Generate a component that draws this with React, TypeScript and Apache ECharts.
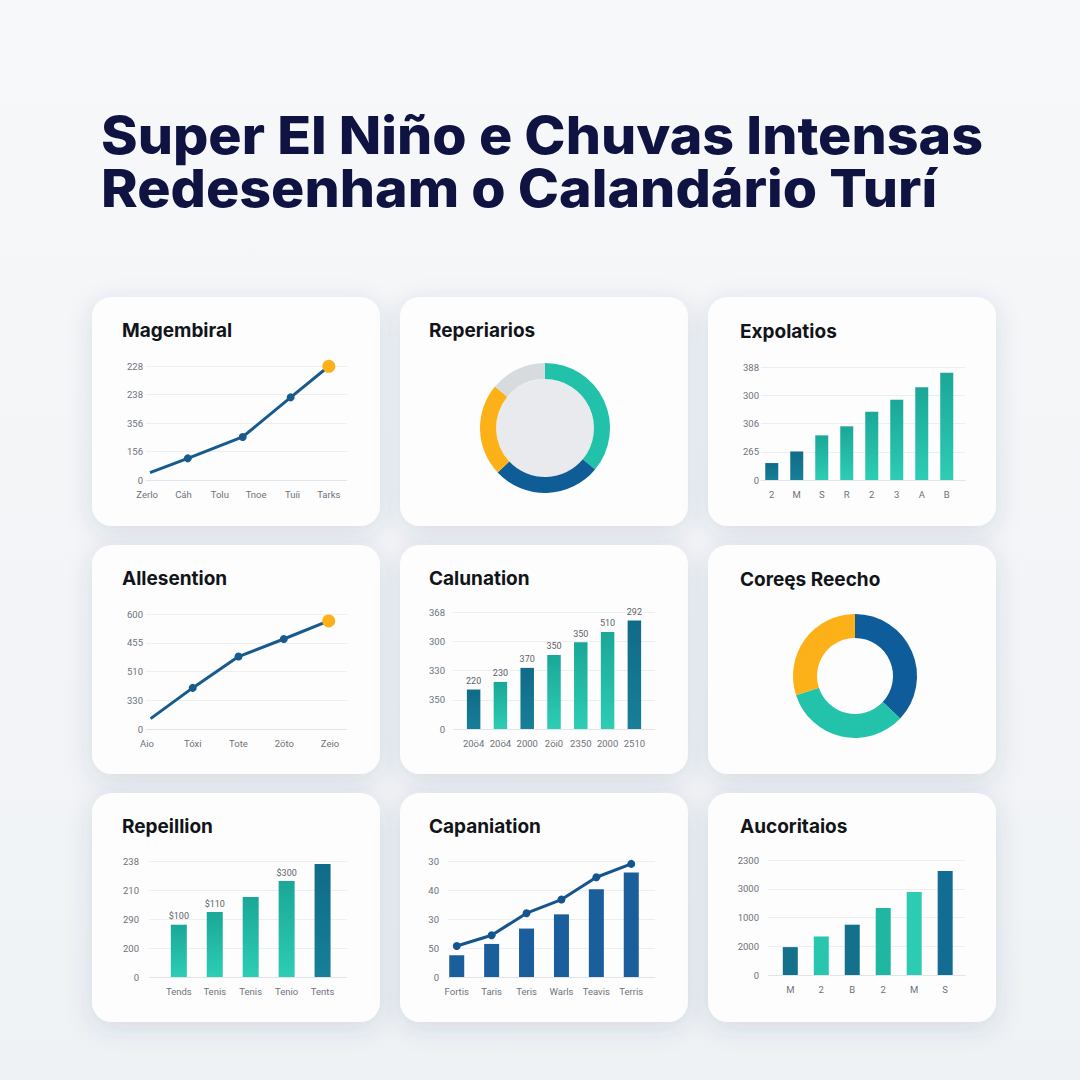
import React, { useEffect, useRef } from 'react';
import * as echarts from 'echarts';

// ---------- Text ----------
const TITLE_LINE1 = 'Super El Niño e Chuvas Intensas';
const TITLE_LINE2 = 'Redesenham o Calandário Turí';

const panelTitles = [
  'Magembiral', 'Reperiarios', 'Expolatios',
  'Allesention', 'Calunation', 'Coreęs Reecho',
  'Repeillion', 'Capaniation', 'Aucoritaios',
];

// ---------- Data ----------
// Panel 1 – line
const p1XLabels = ['Zerlo', 'Cáh', 'Tolu', 'Tnoe', 'Tuíi', 'Tarks'];
const p1YLabels = ['0', '156', '356', '238', '228'];
const p1X = [0.08, 1.12, 2.63, 3.95, 5.0];
const p1Y = [26, 76, 151, 290, 399];

// Panel 2 – donut
const p2Names = ['A', 'B', 'C', 'D'];
const p2Values = [36, 27, 23, 14];

// Panel 3 – bars
const p3XLabels = ['2', 'M', 'S', 'R', '2', '3', 'A', 'B'];
const p3YLabels = ['0', '265', '306', '300', '388'];
const p3Values = [60, 101, 158, 190, 242, 284, 328, 380];

// Panel 4 – line
const p4XLabels = ['Aio', 'Tóxi', 'Tote', '2öto', 'Zeio'];
const p4YLabels = ['0', '330', '510', '455', '600'];
const p4X = [0.08, 1.0, 2.0, 2.99, 3.97];
const p4Y = [36, 143, 252, 313, 376];

// Panel 5 – bars with labels
const p5XLabels = ['20ö4', '20ö4', '2000', '2öi0', '2350', '2000', '2510'];
const p5YLabels = ['0', '350', '330', '300', '368'];
const p5Values = [135, 161, 209, 253, 297, 332, 371];
const p5BarLabels = ['220', '230', '370', '350', '350', '510', '292'];

// Panel 6 – donut
const p6Names = ['A', 'B', 'C'];
const p6Values = [37, 33, 30];

// Panel 7 – bars with labels
const p7XLabels = ['Tends', 'Tenis', 'Tenis', 'Tenio', 'Tents'];
const p7YLabels = ['0', '200', '290', '210', '238'];
const p7Values = [180, 224, 276, 331, 390];
const p7BarLabels = ['$100', '$110', '', '$300', ''];

// Panel 8 – bars + line
const p8XLabels = ['Fortis', 'Taris', 'Teris', 'Warls', 'Teavis', 'Terris'];
const p8YLabels = ['0', '50', '30', '40', '30'];
const p8Bars = [75, 114, 167, 216, 303, 360];
const p8Line = [107, 144, 220, 267, 344, 390];

// Panel 9 – bars
const p9XLabels = ['M', '2', 'B', '2', 'M', 'S'];
const p9YLabels = ['0', '2000', '1000', '3000', '2300'];
const p9Values = [97, 134, 175, 233, 289, 362];

// ---------- Styles ----------
const NAVY = '#0e1342';
const LINE_BLUE = '#175a8d';
const YELLOW = '#fbb117';
const TEAL = '#22c1aa';
const DARK_TEAL = '#13718c';
const BLUE = '#0f5d96';
const GRAY_SEG = '#d8dbde';
const AXIS_TXT = '#6e7277';
const GRID_LINE = '#eceef0';
const TICK_FONT = 'Roboto, "Noto Sans", sans-serif';
const TITLE_FONT = 'Inter, "Noto Sans", sans-serif';

const grad = (top: string, bottom: string) =>
  new echarts.graphic.LinearGradient(0, 0, 0, 1, [
    { offset: 0, color: top },
    { offset: 1, color: bottom },
  ]);
const tealGrad = () => grad('#1aa797', '#2dcdb4');
const darkGrad = () => grad('#106b88', '#177f97');

const p3Colors = [darkGrad, darkGrad, tealGrad, tealGrad, tealGrad, tealGrad, tealGrad, tealGrad];
const p5Colors = [darkGrad, tealGrad, darkGrad, tealGrad, tealGrad, tealGrad, darkGrad];
const p7Colors = [tealGrad, tealGrad, tealGrad, tealGrad, darkGrad];
const p9Colors = [
  () => DARK_TEAL, () => '#27c6ad', () => DARK_TEAL, () => '#20b7a2', () => '#2ccbb2', () => '#136c93',
];

const cardCols = [92, 400, 708];
const cardRows = [297, 545, 793];
const CARD_W = 288;
const CARD_H = 229;
const titlePos = [
  [122, 330], [429, 330], [740, 331],
  [122, 578], [429, 578], [740, 579],
  [122, 826], [429, 826], [740, 826],
];

export default function App() {
  const ref = useRef<HTMLDivElement>(null);

  useEffect(() => {
    if (!ref.current) return;
    const chart = echarts.init(ref.current, undefined, { renderer: 'svg' });

    const grid: any[] = [];
    const xAxis: any[] = [];
    const yAxis: any[] = [];
    const series: any[] = [];

    const addCart = (
      box: { left: number; top: number; width: number; height: number },
      xLabels: string[],
      yLabels: string[],
      xMin: number,
      xMax: number,
      yMargin: number,
      xMargin: number,
    ) => {
      const idx = grid.length;
      grid.push({ ...box, containLabel: false });
      xAxis.push({
        type: 'value',
        gridIndex: idx,
        min: xMin,
        max: xMax,
        splitLine: { show: false },
        axisTick: { show: false },
        axisLine: { show: true, lineStyle: { color: '#e2e5e8', width: 1 } },
        axisLabel: {
          customValues: xLabels.map((_, i) => i),
          formatter: (v: number) => xLabels[Math.round(v)] ?? '',
          color: AXIS_TXT,
          fontSize: 9.5,
          fontFamily: TICK_FONT,
          margin: xMargin,
        },
      });
      yAxis.push({
        type: 'value',
        gridIndex: idx,
        min: 0,
        max: 400,
        interval: 100,
        axisLine: { show: false },
        axisTick: { show: false },
        splitLine: { show: true, lineStyle: { color: GRID_LINE, width: 1 } },
        axisLabel: {
          formatter: (v: number) => yLabels[Math.round(v / 100)] ?? '',
          color: AXIS_TXT,
          fontSize: 9.5,
          fontFamily: TICK_FONT,
          margin: yMargin,
        },
      });
      return idx;
    };

    const lineSeries = (idx: number, xs: number[], ys: number[], firstMarker: boolean, lastYellow: boolean, color: string) => ({
      type: 'line',
      xAxisIndex: idx,
      yAxisIndex: idx,
      z: 5,
      symbol: 'circle',
      symbolSize: 8,
      lineStyle: { color, width: 3 },
      itemStyle: { color },
      data: xs.map((x, i) => {
        const item: any = { value: [x, ys[i]] };
        if (i === 0 && !firstMarker) item.symbol = 'none';
        if (i === xs.length - 1 && lastYellow) {
          item.symbolSize = 13;
          item.itemStyle = { color: YELLOW };
        }
        return item;
      }),
    });

    const barSeries = (idx: number, vals: number[], colors: (() => any)[], width: number, labels?: string[]) => ({
      type: 'bar',
      xAxisIndex: idx,
      yAxisIndex: idx,
      barWidth: width,
      z: 3,
      data: vals.map((v, i) => ({
        value: [i, v],
        itemStyle: { color: colors[i % colors.length]() },
        label: labels && labels[i]
          ? {
              show: true,
              position: 'top',
              distance: 4,
              formatter: labels[i],
              color: '#5f6368',
              fontSize: 9,
              fontFamily: TICK_FONT,
            }
          : { show: false },
      })),
    });

    // Panel 1
    const g1 = addCart({ left: 146, top: 366, width: 201, height: 114 }, p1XLabels, p1YLabels, -0.03, 5.5, 3, 9);
    series.push(lineSeries(g1, p1X, p1Y, false, true, LINE_BLUE));

    // Panel 3
    const g3 = addCart({ left: 761, top: 367, width: 204, height: 113 }, p3XLabels, p3YLabels, -0.43, 7.73, 2, 9);
    series.push(barSeries(g3, p3Values, p3Colors, 13));

    // Panel 4
    const g4 = addCart({ left: 146, top: 614, width: 201, height: 115 }, p4XLabels, p4YLabels, -0.02, 4.37, 3, 9);
    series.push(lineSeries(g4, p4X, p4Y, false, true, LINE_BLUE));

    // Panel 5
    const g5 = addCart({ left: 453, top: 612, width: 202, height: 117 }, p5XLabels, p5YLabels, -0.77, 6.77, 8, 9);
    series.push(barSeries(g5, p5Values, p5Colors, 13.5, p5BarLabels));

    // Panel 7
    const g7 = addCart({ left: 149, top: 861, width: 198, height: 116 }, p7XLabels, p7YLabels, -0.83, 4.68, 10, 9);
    series.push(barSeries(g7, p7Values, p7Colors, 16, p7BarLabels));

    // Panel 8
    const g8 = addCart({ left: 448, top: 861, width: 207, height: 116 }, p8XLabels, p8YLabels, -0.25, 5.68, 9, 9);
    series.push(barSeries(g8, p8Bars, [() => '#1a5e9c'], 15));
    series.push(lineSeries(g8, p8Line.map((_, i) => i), p8Line, true, false, '#15558f'));

    // Panel 9
    const g9 = addCart({ left: 768, top: 860, width: 197, height: 115 }, p9XLabels, p9YLabels, -0.72, 5.64, 9, 9);
    series.push(barSeries(g9, p9Values, p9Colors, 15));

    // Panel 2 donut
    const p2Colors = [TEAL, BLUE, YELLOW, GRAY_SEG];
    series.push({
      type: 'pie',
      center: [545, 428],
      radius: [49, 65],
      startAngle: 90,
      clockwise: true,
      silent: true,
      label: { show: false },
      labelLine: { show: false },
      data: p2Values.map((v, i) => ({ name: p2Names[i], value: v, itemStyle: { color: p2Colors[i] } })),
    });

    // Panel 6 donut
    const p6Colors = ['#0f5c9a', '#23c2aa', YELLOW];
    series.push({
      type: 'pie',
      center: [855, 676],
      radius: [38, 62],
      startAngle: 90,
      clockwise: true,
      silent: true,
      label: { show: false },
      labelLine: { show: false },
      data: p6Values.map((v, i) => ({ name: p6Names[i], value: v, itemStyle: { color: p6Colors[i] } })),
    });

    const graphics: any[] = [];
    graphics.push({
      type: 'rect',
      z: -200,
      shape: { x: 0, y: 0, width: 1080, height: 1080 },
      style: { fill: grad('#f7f8fa', '#eff2f5') },
      silent: true,
    });
    cardRows.forEach((y) =>
      cardCols.forEach((x) => {
        graphics.push({
          type: 'rect',
          z: -100,
          shape: { x, y, width: CARD_W, height: CARD_H, r: 20 },
          style: {
            fill: '#fdfdfe',
            shadowBlur: 26,
            shadowOffsetY: 6,
            shadowColor: 'rgba(40,60,100,0.14)',
          },
          silent: true,
        });
      }),
    );
    graphics.push({
      type: 'circle',
      z: -50,
      shape: { cx: 545, cy: 428, r: 49 },
      style: { fill: '#e8eaed' },
      silent: true,
    });
    // main title
    [TITLE_LINE1, TITLE_LINE2].forEach((t, i) => {
      graphics.push({
        type: 'text',
        z: 100,
        x: 101,
        y: 135 + i * 53,
        scaleX: 1.068,
        style: {
          text: t,
          fontSize: 52,
          fontWeight: 800,
          fontFamily: TITLE_FONT,
          fill: NAVY,
          verticalAlign: 'middle',
        },
      });
    });
    panelTitles.forEach((t, i) => {
      graphics.push({
        type: 'text',
        z: 100,
        x: titlePos[i][0],
        y: titlePos[i][1],
        style: {
          text: t,
          fontSize: 19,
          fontWeight: 'bold',
          fontFamily: TITLE_FONT,
          fill: '#111418',
          verticalAlign: 'middle',
        },
      });
    });

    chart.setOption({
      animation: false,
      backgroundColor: '#f4f6f8',
      grid,
      xAxis,
      yAxis,
      series,
      graphic: { elements: graphics },
    });

    return () => chart.dispose();
  }, []);

  return (
    <div
      ref={ref}
      style={{ position: 'fixed', left: 0, top: 0, width: 1080, height: 1080 }}
    />
  );
}
